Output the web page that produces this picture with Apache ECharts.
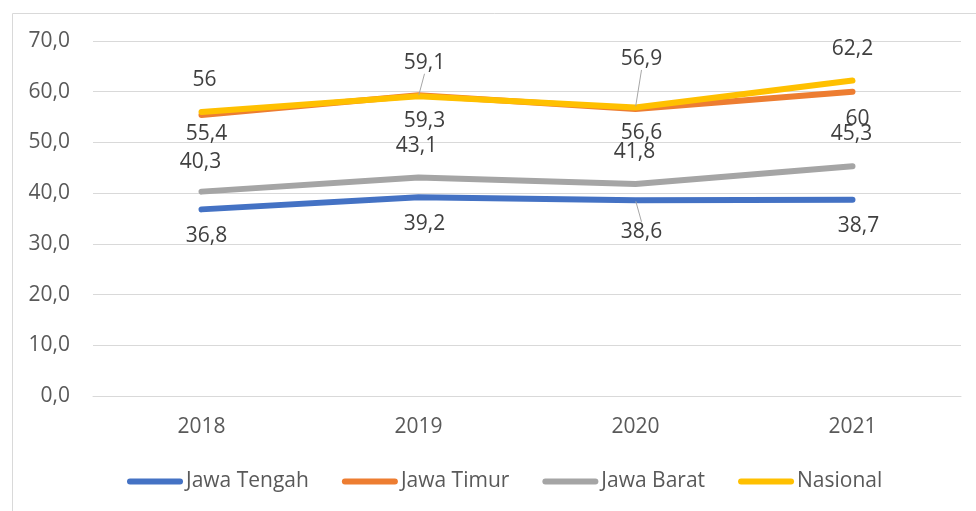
<!DOCTYPE html>
<html>
<head>
<meta charset="utf-8">
<script src="https://cdn.jsdelivr.net/npm/echarts@6/dist/echarts.min.js"></script>
<style>html,body{margin:0;padding:0;background:#fff}#c{width:976px;height:511px}</style>
</head>
<body>
<div id="c"></div>
<script>
const categories = ['2018', '2019', '2020', '2021'];
const jawaTengah = [36.8, 39.2, 38.6, 38.7];
const jawaTimur = [55.4, 59.3, 56.6, 60];
const jawaBarat = [40.3, 43.1, 41.8, 45.3];
const nasional = [56, 59.1, 56.9, 62.2];
const seriesNames = ['Jawa Tengah', 'Jawa Timur', 'Jawa Barat', 'Nasional'];
const yTicks = { min: 0, max: 70, interval: 10 };

// label placement (style): offset of label centre from its point, px
const labelOffsets = [
  [[5, 27], [6, 27], [6, 32], [6, 26]],
  [[5, 18.5], [6, 26], [6, 24.5], [5, 27]],
  [[-1, -30], [-2, -31], [-1, -32], [-1, -32]],
  [[3, -31.5], [6, -33], [6, -48], [0, -32]]
];
const leaders = { '0-2': true, '3-1': true, '3-2': true };
const colors = ['#4472C4', '#ED7D31', '#A5A5A5', '#FFC000'];
const FONT = 'Open Sans';
const FS = 21;

const chart = echarts.init(document.getElementById('c'), null, { renderer: 'canvas' });
const values = [jawaTengah, jawaTimur, jawaBarat, nasional];

function fmt(v) { return String(v).replace('.', ','); }

const series = values.map((arr, si) => ({
  name: seriesNames[si],
  type: 'line',
  data: arr.map((v, di) => ({
    value: v,
    labelLine: { show: !!leaders[si + '-' + di], lineStyle: { color: '#A6A6A6', width: 1 }, smooth: false }
  })),
  symbol: 'circle',
  symbolSize: 2,
  showSymbol: true,
  z: si === 3 ? 5 : (si === 1 ? 4 : 3),
  itemStyle: { color: colors[si] },
  lineStyle: { color: colors[si], width: 6, cap: 'round', join: 'round' },
  emphasis: { disabled: true },
  label: {
    show: true,
    position: 'inside',
    formatter: p => fmt(p.value),
    color: '#404040',
    fontFamily: FONT,
    fontSize: FS
  },
  labelLayout: p => {
    const o = labelOffsets[si][p.dataIndex];
    return { dx: o[0], dy: o[1] };
  }
}));

chart.setOption({
  animation: false,
  color: colors,
  graphic: [{
    type: 'rect', left: 10, top: 11, shape: { width: 1200, height: 1200 },
    style: { fill: 'none', stroke: '#D9D9D9', lineWidth: 1 }, silent: true, z: -1
  }],
  grid: { left: 93, right: 15, top: 41, bottom: 115, containLabel: false },
  legend: {
    data: seriesNames,
    left: 122,
    top: 466,
    itemWidth: 56,
    itemHeight: 6,
    itemGap: 33,
    icon: 'path://M3,0 L53,0 A3,3 0 0 1 53,6 L3,6 A3,3 0 0 1 3,0 Z',
    textStyle: { color: '#595959', fontFamily: FONT, fontSize: FS, padding: [0, 0, 0, -2] }
  },
  xAxis: {
    type: 'category',
    data: categories,
    boundaryGap: true,
    axisLine: { show: true, lineStyle: { color: '#D9D9D9', width: 1 } },
    axisTick: { show: false },
    axisLabel: { color: '#595959', fontFamily: FONT, fontSize: FS, margin: 21 }
  },
  yAxis: {
    type: 'value',
    min: yTicks.min, max: yTicks.max, interval: yTicks.interval,
    axisLine: { show: false },
    axisTick: { show: false },
    splitLine: { lineStyle: { color: '#D9D9D9', width: 1 } },
    axisLabel: { color: '#595959', fontFamily: FONT, fontSize: FS, margin: 23, formatter: v => v.toFixed(1).replace('.', ',') }
  },
  series: series
});
</script>
</body>
</html>
